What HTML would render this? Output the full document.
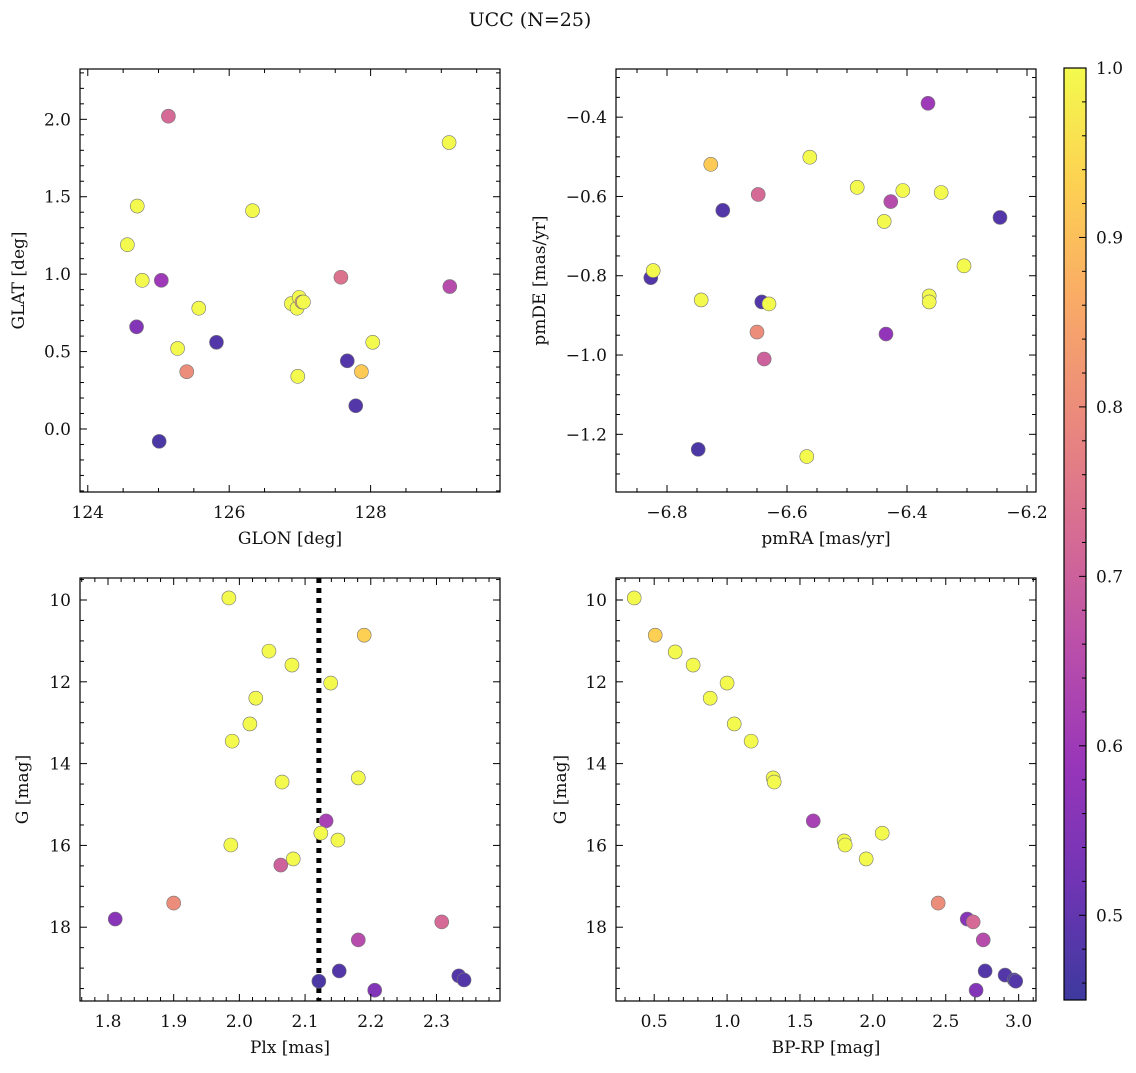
<!DOCTYPE html>
<html><head><meta charset="utf-8"><style>
body{margin:0;background:#fff}
svg text{font-family:"DejaVu Serif","Liberation Serif",serif;fill:#111}
</style></head><body>
<svg id="fig" width="1136" height="1068" xmlns="http://www.w3.org/2000/svg">
<defs>
<linearGradient id="cbg" x1="0" y1="1" x2="0" y2="0">
<stop offset="0" stop-color="#0d0887"/><stop offset="0.125" stop-color="#4c02a1"/><stop offset="0.25" stop-color="#7e03a8"/><stop offset="0.375" stop-color="#a82296"/><stop offset="0.5" stop-color="#cc4778"/><stop offset="0.625" stop-color="#e66c5c"/><stop offset="0.75" stop-color="#f89540"/><stop offset="0.875" stop-color="#fdc527"/><stop offset="1" stop-color="#f0f921"/>
</linearGradient></defs>
<text x="530" y="26" font-size="19" text-anchor="middle">UCC (N=25)</text>
</svg>
<script>
// Panel 1: GLON vs GLAT
const glonX=[125.14,129.11,124.70,124.56,124.77,125.04,126.33,125.57,124.69,125.27,125.82,125.40,125.01,126.88,126.96,126.99,127.03,127.05,126.97,127.58,127.67,127.79,127.87,128.03,129.12];
const glatY=[2.02,1.85,1.44,1.19,0.96,0.96,1.41,0.78,0.66,0.52,0.56,0.37,-0.08,0.81,0.78,0.85,0.82,0.82,0.34,0.98,0.44,0.15,0.37,0.56,0.92];
const glC=[0.72,1,1,1,1,0.6,1,1,0.55,1,0.48,0.8,0.47,1,1,1,0.85,1,1,0.74,0.48,0.48,0.92,1,0.65];
// Panel 2: pmRA vs pmDE
const pmraX=[-6.365,-6.727,-6.562,-6.707,-6.648,-6.483,-6.407,-6.343,-6.427,-6.438,-6.245,-6.305,-6.827,-6.823,-6.363,-6.363,-6.743,-6.642,-6.63,-6.65,-6.435,-6.638,-6.748,-6.567];
const pmdeY=[-0.365,-0.519,-0.501,-0.635,-0.595,-0.577,-0.585,-0.59,-0.613,-0.663,-0.653,-0.775,-0.805,-0.787,-0.851,-0.866,-0.861,-0.866,-0.871,-0.942,-0.947,-1.01,-1.238,-1.256];
const pmC=[0.6,0.92,1,0.48,0.72,1,1,1,0.65,1,0.48,1,0.48,1,1,1,1,0.48,1,0.8,0.58,0.7,0.47,1];
// Panel 3: Plx vs G
const plxX=[1.984,2.190,2.045,2.080,2.139,2.025,2.016,1.989,2.065,2.181,2.132,2.124,2.150,1.987,2.082,2.063,1.811,1.900,2.308,2.181,2.152,2.121,2.334,2.342,2.206];
const gY=[9.95,10.86,11.25,11.59,12.03,12.40,13.03,13.45,14.45,14.35,15.40,15.70,15.87,15.99,16.33,16.48,17.80,17.41,17.87,18.31,19.07,19.32,19.19,19.29,19.54];
const plC=[1,0.93,1,1,1,1,1,1,1,1,0.62,1,1,1,1,0.7,0.56,0.8,0.72,0.65,0.48,0.47,0.48,0.48,0.55];
const plxLine=2.121;
// Panel 4: BP-RP vs G
const bprpX=[0.363,0.507,0.644,0.767,1.0,0.884,1.049,1.165,1.316,1.323,1.591,2.064,1.803,1.81,1.954,2.448,2.647,2.688,2.757,2.770,2.907,2.97,2.98,2.708];
const g2Y=[9.95,10.86,11.27,11.59,12.03,12.40,13.03,13.45,14.35,14.45,15.40,15.70,15.89,15.99,16.33,17.41,17.80,17.87,18.31,19.07,19.17,19.29,19.32,19.54];
const cmC=[1,0.93,1,1,1,1,1,1,1,1,0.62,1,1,1,1,0.8,0.56,0.72,0.65,0.48,0.48,0.47,0.48,0.55];

const svg=document.getElementById('fig');
const NS='http://www.w3.org/2000/svg';
function mk(tag,attrs,parent){const e=document.createElementNS(NS,tag);for(const k in attrs)e.setAttribute(k,attrs[k]);(parent||svg).appendChild(e);return e;}
const stops=[[13,8,135],[76,2,161],[126,3,168],[168,34,150],[204,71,120],[230,108,92],[248,149,64],[253,197,39],[240,249,33]];
function cmap(v){let t=(v-0.45)/0.55;t=Math.max(0,Math.min(1,t));const p=t*8,i=Math.min(7,Math.floor(p)),f=p-i;const a=stops[i],b=stops[i+1];
 const c=[0,1,2].map(k=>Math.round((a[k]+(b[k]-a[k])*f)*0.8+255*0.2));return `rgb(${c[0]},${c[1]},${c[2]})`;}
function fmt(v,d){if(Math.abs(v)<1e-9)v=0;let s=v.toFixed(d);if(/^-0(\.0+)?$/.test(s))s=s.slice(1);return s.replace('-','\u2212');}

function panel(o){
 const g=mk('g',{});
 
 
 const sx=v=>o.x0+(v-o.xmin)/(o.xmax-o.xmin)*(o.x1-o.x0);
 const sy=v=>o.inv? o.y0+(v-o.ymin)/(o.ymax-o.ymin)*(o.y1-o.y0) : o.y1-(v-o.ymin)/(o.ymax-o.ymin)*(o.y1-o.y0);
 if(o.vline!==undefined){const l=mk('line',{x1:sx(o.vline),x2:sx(o.vline),y1:o.y0,y2:o.y1,stroke:'#000','stroke-width':5,'stroke-dasharray':'5 5'},g);
  
  }
 for(let i=0;i<o.xs.length;i++){const c=mk('circle',{cx:sx(o.xs[i]),cy:sy(o.ys[i]),r:7,fill:cmap(o.cs[i]),stroke:'#777','stroke-width':0.6},g);
  
  }
 const fr=mk('rect',{x:o.x0,y:o.y0,width:o.x1-o.x0,height:o.y1-o.y0,fill:'none',stroke:'#000','stroke-width':1.2},g);
 
 
 const eps=1e-9;
 for(let k=Math.ceil(o.xmin/o.xmi-eps);k*o.xmi<=o.xmax+eps;k++){const v=k*o.xmi;const X=sx(v);const maj=Math.abs(v/o.xma-Math.round(v/o.xma))<1e-6;const L=maj?7:4;
  mk('line',{x1:X,x2:X,y1:o.y1,y2:o.y1-L,stroke:'#000','stroke-width':1},g);mk('line',{x1:X,x2:X,y1:o.y0,y2:o.y0+L,stroke:'#000','stroke-width':1},g);
  if(maj){const t=mk('text',{x:X,y:o.y1+26,'font-size':17,'text-anchor':'middle'},g);t.textContent=fmt(v,o.xd);
   
   }}
 for(let k=Math.ceil(o.ymin/o.ymi-eps);k*o.ymi<=o.ymax+eps;k++){const v=k*o.ymi;const Y=sy(v);const maj=Math.abs(v/o.yma-Math.round(v/o.yma))<1e-6;const L=maj?7:4;
  mk('line',{x1:o.x0,x2:o.x0+L,y1:Y,y2:Y,stroke:'#000','stroke-width':1},g);mk('line',{x1:o.x1,x2:o.x1-L,y1:Y,y2:Y,stroke:'#000','stroke-width':1},g);
  if(maj){const t=mk('text',{x:o.x0-9,y:Y+6,'font-size':17,'text-anchor':'end'},g);t.textContent=fmt(v,o.yd);
   
   }}
 const xl=mk('text',{x:(o.x0+o.x1)/2,y:o.y1+52,'font-size':17,'text-anchor':'middle'},g);xl.textContent=o.xl;
 
 
 const yx=o.ylx,yy=(o.y0+o.y1)/2;
 const yl=mk('text',{x:yx,y:yy,'font-size':17,'text-anchor':'middle',transform:`rotate(-90 ${yx} ${yy})`},g);yl.textContent=o.yl;
 
 
}
panel({name:'glon-glat-panel',x0:80,x1:500,y0:69,y1:492,xmin:123.89,xmax:129.83,ymin:-0.407,ymax:2.325,xma:2,xmi:0.5,yma:0.5,ymi:0.1,xd:0,yd:1,xs:glonX,ys:glatY,cs:glC,xl:'GLON [deg]',yl:'GLAT [deg]',ylx:24});
panel({name:'pm-panel',x0:616,x1:1036,y0:69,y1:492,xmin:-6.885,xmax:-6.185,ymin:-1.3455,ymax:-0.2785,xma:0.2,xmi:0.05,yma:0.2,ymi:0.05,xd:1,yd:1,xs:pmraX,ys:pmdeY,cs:pmC,xl:'pmRA [mas/yr]',yl:'pmDE [mas/yr]',ylx:545});
panel({name:'plx-g-panel',x0:80,x1:500,y0:578,y1:1001,xmin:1.7574,xmax:2.3967,ymin:9.462,ymax:19.804,inv:true,xma:0.1,xmi:0.02,yma:2,ymi:0.5,xd:1,yd:0,xs:plxX,ys:gY,cs:plC,vline:plxLine,xl:'Plx [mas]',yl:'G [mag]',ylx:28});
panel({name:'cmd-panel',x0:616,x1:1036,y0:578,y1:1001,xmin:0.238,xmax:3.119,ymin:9.462,ymax:19.804,inv:true,xma:0.5,xmi:0.1,yma:2,ymi:0.5,xd:1,yd:0,xs:bprpX,ys:g2Y,cs:cmC,xl:'BP-RP [mag]',yl:'G [mag]',ylx:566});
const cb=mk('g',{});


const cbx0=1064,cbx1=1086,cby0=68,cby1=1000,cmin=0.45,cmax=1.0;
mk('rect',{x:cbx0,y:cby0,width:cbx1-cbx0,height:cby1-cby0,fill:'url(#cbg)','fill-opacity':0.8},cb);
mk('rect',{x:cbx0,y:cby0,width:cbx1-cbx0,height:cby1-cby0,fill:'none',stroke:'#000','stroke-width':1.2},cb);
for(let k=23;k<=50;k++){const v=k*0.02;const Y=cby1-(v-cmin)/(cmax-cmin)*(cby1-cby0);const maj=(k%5===0);
 mk('line',{x1:cbx1,x2:cbx1-(maj?7:4),y1:Y,y2:Y,stroke:'#000','stroke-width':1},cb);
 if(maj){const t=mk('text',{x:cbx1+10,y:Y+6,'font-size':17},cb);t.textContent=v.toFixed(1);
  
  }}
</script>
</body></html>
